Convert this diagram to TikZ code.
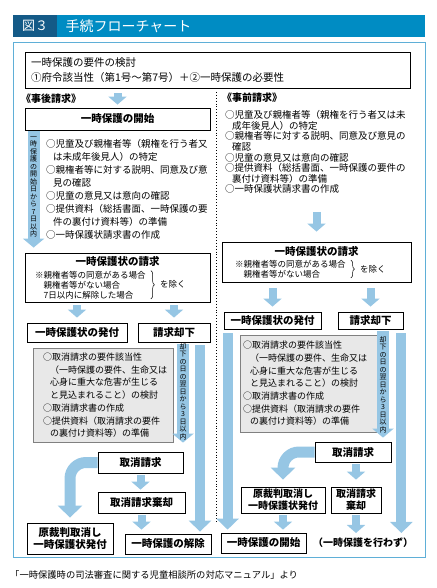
\documentclass[tikz,border=0pt]{standalone}
\usepackage{fontspec}
\setmainfont{Noto Sans CJK JP}
\usetikzlibrary{arrows.meta, positioning, calc, decorations.pathreplacing}

\definecolor{arrowblue}{RGB}{150,198,228}
\definecolor{frameblue}{RGB}{95,175,215}
\definecolor{titledark}{RGB}{20,90,135}
\definecolor{titlelight}{RGB}{0,140,195}
\definecolor{grayfill}{RGB}{232,232,232}

\newcommand\fs[2]{\fontsize{#1}{#2}\selectfont}
\newcommand\ind{\hspace*{7pt}}

\tikzset{
  flowbox/.style={draw, line width=0.8pt, inner sep=0pt, align=center,
    font=\fs{10.5}{12.5}\bfseries},
  boxtitle/.style={inner sep=0pt, anchor=base, font=\fs{10.5}{10.5}\bfseries},
  blk/.style={draw=arrowblue, line width=8pt, -{Triangle[length=8pt,width=18pt]}},
  bar/.style={draw=arrowblue, line width=10pt, -{Triangle[length=11pt,width=22pt]}},
  tatearrow/.style={draw=arrowblue, line width=12pt, -{Triangle[length=9pt,width=21pt]}},
  curvearrow/.style={draw=arrowblue, line width=11pt, rounded corners=16pt,
    -{Triangle[length=12pt,width=24pt]}},
  tate/.style={inner sep=0pt, align=center, font=\fs{7}{7.5}},
  % base = baseline of the last line
  listtext/.style={inner sep=0pt, align=left, anchor=base west, font=\fs{9.5}{13}},
  notetext/.style={inner sep=0pt, align=left, anchor=base west, font=\fs{8.5}{10}},
  graybox/.style={draw=gray, fill=grayfill, line width=0.6pt, inner sep=0pt},
  brace/.style={decorate, decoration={brace, amplitude=3.5pt}, line width=0.5pt},
}

\begin{document}
\begin{tikzpicture}[x=1pt, y=-1pt]
\useasboundingbox (0,0) rectangle (436,588);

% title bar
\fill[titledark] (13,15) rectangle (57,37);
\fill[titlelight] (57,15) rectangle (425,37);
\node[white, font=\fs{13}{13}] (zu) at (35,26) {図３};
\node[white, font=\fs{14}{14}, anchor=west] (ttl) at (62,26) {手続フローチャート};

% outer frame
\draw[frameblue, line width=1pt] (13,43) rectangle (425,557);

% requirements
\node[flowbox, font=\fs{10.5}{14.5}, align=left, text width=373pt, inner xsep=6pt,
  minimum width=385pt, minimum height=36pt] (kento) at (217.5,70)
  {一時保護の要件の検討\\①府令該当性（第1号～第7号）＋②一時保護の必要性};

\node[font=\fs{10}{10}\bfseries, anchor=west, inner sep=0pt] (jigo) at (21,99) {《事後請求》};
\node[font=\fs{10}{10}\bfseries, anchor=west, inner sep=0pt] (jizen) at (222,98) {《事前請求》};

\draw[dotted, line width=0.9pt] (216,92) -- (216,522);

% ---- left: after the fact
\node[flowbox, minimum width=185pt, minimum height=22pt] (lkaishi) at (117.5,119) {一時保護の開始};

\node[listtext] (llist) at (46,238.5)
  {○児童及び親権者等（親権を行う者又\\
   \ind は未成年後見人）の特定\\
   ○親権者等に対する説明、同意及び意\\
   \ind 見の確認\\
   ○児童の意見又は意向の確認\\
   ○提供資料（総括書面、一時保護の要\\
   \ind 件の裏付け資料等）の準備\\
   ○一時保護状請求書の作成};

\node[flowbox, minimum width=185pt, minimum height=49pt] (lseikyu) at (117.5,277.5) {};
\node[boxtitle] (lseikyut) at ([yshift=-13pt]lseikyu.north) {一時保護状の請求};
\node[notetext] (lnote) at (35,298)
  {※親権者等の同意がある場合\\\hspace*{1em}親権者等がない場合\\\hspace*{1em}7日以内に解除した場合};
\draw[brace] ([xshift=5pt]lnote.north east) -- ([xshift=5pt]lnote.south east);
\node[font=\fs{8.5}{8.5}, anchor=west, inner sep=0pt] (ljogai) at ([xshift=14pt]lnote.east) {を除く};

\node[flowbox, minimum width=100pt, minimum height=19pt] (lhakko) at (77,332.5) {一時保護状の発付};
\node[flowbox, minimum width=72pt, minimum height=19pt] (lkyakka) at (174,332.5) {請求却下};

\node[graybox, minimum width=140pt, minimum height=94pt] (lgray) at (103,395) {};
\node[listtext, font=\fs{9}{12.7}] (lgraytxt) at (43,436.7)
  {○取消請求の要件該当性\\
   \ind（一時保護の要件、生命又は\\
   \ind 心身に重大な危害が生じる\\
   \ind と見込まれること）の検討\\
   ○取消請求書の作成\\
   ○提供資料（取消請求の要件\\
   \ind の裏付け資料等）の準備};

\node[flowbox, minimum width=85pt, minimum height=21pt] (ltorikeshi) at (140.5,462.5) {取消請求};
\node[flowbox, minimum width=87pt, minimum height=21pt] (lkikyaku) at (141.5,502.5) {取消請求棄却};
\node[flowbox, minimum width=86pt, minimum height=31pt, font=\fs{10.5}{12}\bfseries] (lgensai) at (70,538.5)
  {原裁判取消し\\一時保護状発付};
\node[flowbox, minimum width=86pt, minimum height=20pt] (lkaijo) at (168,544) {一時保護の解除};

% ---- right: in advance
\node[listtext, font=\fs{9.5}{10.6}] (rlist) at (225,192.8)
  {○児童及び親権者等（親権を行う者又は未\\
   \ind 成年後見人）の特定\\
   ○親権者等に対する説明、同意及び意見の\\
   \ind 確認\\
   ○児童の意見又は意向の確認\\
   ○提供資料（総括書面、一時保護の要件の\\
   \ind 裏付け資料等）の準備\\
   ○一時保護状請求書の作成};

\node[flowbox, minimum width=189pt, minimum height=40pt] (rseikyu) at (316.5,262) {};
\node[boxtitle] (rseikyut) at ([yshift=-14pt]rseikyu.north) {一時保護状の請求};
\node[notetext, font=\fs{8.5}{9.5}] (rnote) at (235,277)
  {※親権者等の同意がある場合\\\hspace*{1em}親権者等がない場合};
\draw[brace] ([xshift=5pt]rnote.north east) -- ([xshift=5pt]rnote.south east);
\node[font=\fs{8.5}{8.5}, anchor=west, inner sep=0pt] (rjogai) at ([xshift=14pt]rnote.east) {を除く};

\node[flowbox, minimum width=97pt, minimum height=17pt] (rhakko) at (272.5,320.5) {一時保護状の発付};
\node[flowbox, minimum width=65pt, minimum height=17pt] (rkyakka) at (370.5,320.5) {請求却下};

\node[graybox, minimum width=141pt, minimum height=97pt] (rgray) at (310.5,383.5) {};
\node[listtext, font=\fs{9}{12.7}] (rgraytxt) at (243,424.8)
  {○取消請求の要件該当性\\
   \ind（一時保護の要件、生命又は\\
   \ind 心身に重大な危害が生じる\\
   \ind と見込まれること）の検討\\
   ○取消請求書の作成\\
   ○提供資料（取消請求の要件\\
   \ind の裏付け資料等）の準備};

\node[flowbox, minimum width=76pt, minimum height=20pt] (rtorikeshi) at (353,452) {取消請求};
\node[flowbox, minimum width=84pt, minimum height=26pt, font=\fs{10}{12}\bfseries] (rgensai) at (283,500)
  {原裁判取消し\\一時保護状発付};
\node[flowbox, minimum width=50pt, minimum height=26pt, font=\fs{10}{12}\bfseries] (rkikyaku) at (356,500)
  {取消請求\\棄却};
\node[flowbox, minimum width=85pt, minimum height=20pt] (rkaishi) at (263.5,543) {一時保護の開始};
\node[font=\fs{10}{10}\bfseries, inner sep=2pt] (rnone) at (363,543) {（一時保護を行わず）};

% ---- connectors, left
\draw[blk, shorten <=5pt, shorten >=3pt] (kento.south -| lkaishi) -- (lkaishi.north);
\draw[tatearrow, shorten <=1pt, shorten >=5pt] ([xshift=9pt]lkaishi.south west) -- ([xshift=9pt]lseikyu.north west)
  node[tate, pos=0.46] {一\\時\\保\\護\\の\\開\\始\\日\\か\\ら\\7\\日\\以\\内};
\draw[blk, shorten <=3pt, shorten >=5pt] (lseikyu.south -| lhakko) -- (lhakko.north);
\draw[blk, shorten <=3pt, shorten >=5pt] (lseikyu.south -| lkyakka) -- (lkyakka.north);

\coordinate (lttop) at ($(lkyakka.south)+(9,0)$);
\draw[tatearrow, shorten <=2pt, shorten >=9pt] (lttop) -- (lttop |- ltorikeshi.north)
  node[tate, pos=0.45] {却\\下\\の\\日\\の\\翌\\日\\か\\ら\\3\\日\\以\\内};
\coordinate (lbtop) at ($(lkyakka.south)+(26,0)$);
\draw[bar, shorten <=3pt, shorten >=2pt] (lbtop) -- (lbtop |- lkaijo.north);

\draw[curvearrow, shorten >=5pt] (ltorikeshi.west) -| (lgensai.north);
\draw[blk, shorten <=2pt, shorten >=2pt] (ltorikeshi.south) -- (ltorikeshi.south |- lkikyaku.north);
\draw[blk, shorten <=2pt, shorten >=4pt] (lkikyaku.south) -- (lkikyaku.south |- lkaijo.north);

% ---- connectors, right
\draw[blk, shorten <=18pt, shorten >=10pt] (rlist.south -| rseikyu) -- (rseikyu.north);
\draw[blk, shorten <=6pt, shorten >=5pt] (rseikyu.south -| rhakko) -- (rhakko.north);
\draw[blk, shorten <=6pt, shorten >=5pt] (rseikyu.south -| rkyakka) -- (rkyakka.north);

\coordinate (rttop) at ($(rkyakka.south)+(12.5,0)$);
\draw[tatearrow, shorten <=2pt, shorten >=4pt] (rttop) -- (rttop |- rtorikeshi.north)
  node[tate, pos=0.49] {却\\下\\の\\日\\の\\翌\\日\\か\\ら\\3\\日\\以\\内};
\coordinate (rb1) at ($(rhakko.south west)+(4,0)$);
\draw[bar, shorten <=4pt, shorten >=3pt] (rb1) -- (rb1 |- rkaishi.north);
\coordinate (rb2) at ($(rkyakka.south east)+(-2,0)$);
\draw[bar, shorten <=4pt, shorten >=3pt] (rb2) -- (rb2 |- rnone.north);

\draw[curvearrow, shorten >=7pt] (rtorikeshi.west) -| (rgensai.north);
\draw[blk, shorten <=2pt, shorten >=7pt] (rtorikeshi.south -| rkikyaku) -- (rkikyaku.north);
\draw[blk, shorten <=2pt, shorten >=3pt] (rgensai.south) -- (rgensai.south |- rkaishi.north);
\draw[blk, shorten <=2pt, shorten >=3pt] (rkikyaku.south) -- (rkikyaku.south |- rnone.north);

% source
\node[font=\fs{9.3}{9.3}, anchor=west, inner sep=0pt] (src) at (10,575)
  {「一時保護時の司法審査に関する児童相談所の対応マニュアル」より};
\end{tikzpicture}
\end{document}
